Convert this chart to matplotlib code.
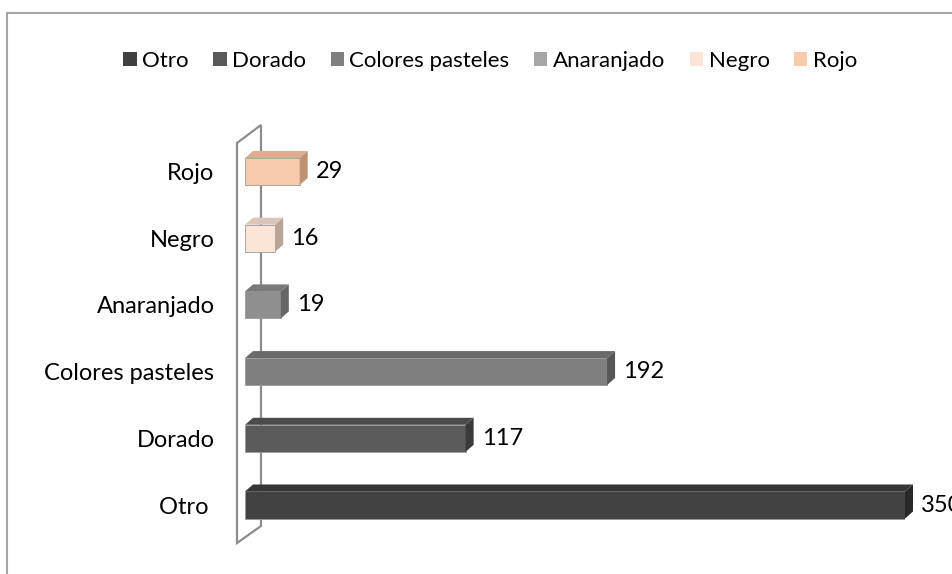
import matplotlib
matplotlib.use('Agg')
import matplotlib.pyplot as plt
from matplotlib.patches import Polygon, Patch, Rectangle

# data
categories = ['Otro ', 'Dorado', 'Colores pasteles', 'Anaranjado', 'Negro', 'Rojo']
legend_names = ['Otro', 'Dorado', 'Colores pasteles', 'Anaranjado', 'Negro', 'Rojo']
values = [350, 117, 192, 19, 16, 29]

front_colors = ['#424242', '#5a5a5a', '#7f7f7f', '#8f8f8f', '#fce4d6', '#f8cbad']
top_colors = ['#363636', '#4b4b4b', '#6a6a6a', '#7a7a7a', '#dcc6b9', '#dcad8e']
side_colors = ['#282828', '#3a3a3a', '#575757', '#676767', '#b8a597', '#bf9272']
legend_colors = ['#404040', '#595959', '#7f7f7f', '#a5a5a5', '#fce4d6', '#f8cbad']

plt.rcParams['font.family'] = ['Lato', 'DejaVu Sans']

W, H = 952, 574
fig = plt.figure(figsize=(W / 100, H / 100), dpi=100)

# axes placed so bar start/end and category rows sit where the reference has them
x0_px, x1_px = 245, 905
row_px = 66.7
ylo, yhi = -0.6, 5.6
top_px = 505 - yhi * row_px
bot_px = 505 - ylo * row_px
ax = fig.add_axes([x0_px / W, 1 - bot_px / H, (x1_px - x0_px) / W, (bot_px - top_px) / H])
ax.set_xlim(0, 350)
ax.set_ylim(ylo, yhi)

px_x = 350 / (x1_px - x0_px)     # data units per pixel (x)
px_y = 1 / row_px                # data units per pixel (y)
dx, dy = 8 * px_x, 7 * px_y
bh = 0.405

# left wall
wf, wb = -8 * px_x, 16 * px_x
wall = Polygon([(wf, (505 - 543) * px_y), (wb, (505 - 526) * px_y),
                (wb, (505 - 125) * px_y), (wf, (505 - 143) * px_y)],
               closed=True, facecolor='white', edgecolor='#8c8c8c', lw=1.6,
               clip_on=False, zorder=1)
ax.add_patch(wall)

ys = list(range(len(categories)))
ax.barh(ys, values, height=bh, color=front_colors, edgecolor='#9a9a9a', lw=0.6, zorder=3)
for y, v, tc, sc in zip(ys, values, top_colors, side_colors):
    t = y + bh / 2
    b = y - bh / 2
    ax.add_patch(Polygon([(0, t), (v, t), (v + dx, t + dy), (dx, t + dy)],
                         closed=True, facecolor=tc, edgecolor='none', clip_on=False, zorder=3))
    ax.add_patch(Polygon([(v, b), (v + dx, b + dy), (v + dx, t + dy), (v, t)],
                         closed=True, facecolor=sc, edgecolor='none', clip_on=False, zorder=3))
    ax.annotate(str(v), (v + dx, y), xytext=(6, 0), textcoords='offset points',
                ha='left', va='center', fontsize=17, color='black', annotation_clip=False)

ax.set_yticks(ys)
ax.set_yticklabels(categories, fontsize=17)
ax.tick_params(axis='y', length=0, pad=22)
ax.set_xticks([])
for s in ax.spines.values():
    s.set_visible(False)
ax.patch.set_alpha(0)

handles = [Patch(facecolor=c, edgecolor='none') for c in legend_colors]
fig.legend(handles, legend_names, loc='center', bbox_to_anchor=(0.515, 1 - 61 / H), ncol=6,
           frameon=False, fontsize=16, handlelength=0.6, handleheight=0.6,
           handletextpad=0.25, columnspacing=1.1)

# outer chart border (only top and left edges fall inside the picture)
fig.patches.append(Rectangle((7 / W, -0.1), 1.2, 1 - 13 / H + 0.1, transform=fig.transFigure,
                             facecolor='none', edgecolor='#a6a6a6', lw=1.5))

fig.savefig('out.png', dpi=100)
